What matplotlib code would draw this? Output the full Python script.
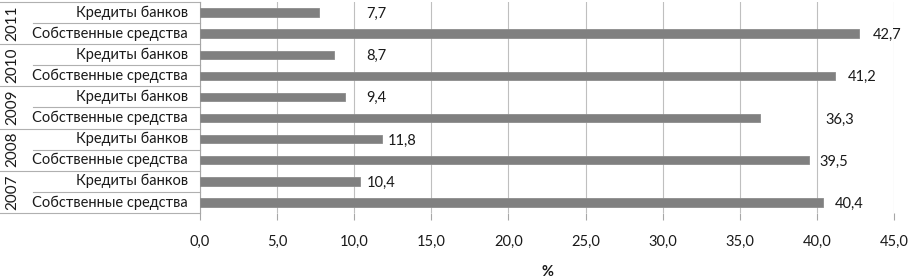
import matplotlib
matplotlib.use("Agg")
import matplotlib.pyplot as plt
from matplotlib.transforms import blended_transform_factory

plt.rcParams['font.family'] = ['Lato', 'DejaVu Sans']

years = ["2007", "2008", "2009", "2010", "2011"]
subcats = ["Собственные средства", "Кредиты банков"]
own_funds = [40.4, 39.5, 36.3, 41.2, 42.7]
bank_credit = [10.4, 11.8, 9.4, 8.7, 7.7]
value_labels_own = ["40,4", "39,5", "36,3", "41,2", "42,7"]
value_labels_credit = ["10,4", "11,8", "9,4", "8,7", "7,7"]
xticks = [0, 5, 10, 15, 20, 25, 30, 35, 40, 45]
xtick_labels = ["0,0", "5,0", "10,0", "15,0", "20,0", "25,0", "30,0", "35,0", "40,0", "45,0"]
xlabel = "%"

# label offsets in pixels from bar end (style, mimicking reference placement)
off_own = [12, 10, 66, 12, 14]
off_credit = [6, 6, 21, 32, 47]

W, H = 908, 278
FS = 10.5
TXT = "#1a1a1a"
fig = plt.figure(figsize=(W / 100, H / 100), dpi=100)
ax = fig.add_axes([200 / W, (H - 213) / H, 694 / W, 211 / H])

vals, labs, offs, cats = [], [], [], []
for i in range(len(years)):
    vals += [own_funds[i], bank_credit[i]]
    labs += [value_labels_own[i], value_labels_credit[i]]
    offs += [off_own[i], off_credit[i]]
    cats += subcats
pos = list(range(len(vals)))

bar_color = "#808080"
ax.barh(pos, vals, height=0.4, color=bar_color, edgecolor="#8c8c8c", linewidth=0.6, zorder=3)
for p, v, l, o in zip(pos, vals, labs, offs):
    ax.annotate(l, (v, p), xytext=(o * 0.72, -1), textcoords="offset points",
                ha="left", va="center", fontsize=FS, color=TXT)

ax.set_xlim(0, 45)
ax.set_ylim(-0.5, len(vals) - 0.5)
ax.set_xticks(xticks)
ax.set_xticklabels(xtick_labels, fontsize=FS, color=TXT)
ax.set_yticks([])
ax.grid(axis="x", color="#bfbfbf", linewidth=0.8, zorder=0)
for s in ["top", "right", "bottom"]:
    ax.spines[s].set_visible(False)
ax.spines["left"].set_color("#a6a6a6")
ax.spines["left"].set_linewidth(0.8)
ax.tick_params(axis="x", length=5, width=0.8, color="#a6a6a6", pad=11)
ax.set_xlabel(xlabel, fontsize=FS, fontweight="bold", labelpad=11, color=TXT)

tr = blended_transform_factory(fig.transFigure, ax.transData)
line_kw = dict(color="#b0b0b0", linewidth=0.8, transform=tr, clip_on=False)
# category labels
for p, c in zip(pos, cats):
    ax.text(188 / W, p, c, transform=tr, ha="right", va="center", fontsize=FS, color=TXT, clip_on=False)
# year labels
for i, y in enumerate(years):
    ax.text(12 / W, 2 * i + 0.5, y, transform=tr, ha="center", va="center", rotation=90,
            fontsize=FS + 0.5, color=TXT, clip_on=False)
# separators
for i in range(len(years) + 1):
    yb = 2 * i - 0.5
    ax.plot([0, 200 / W], [yb, yb], **line_kw)
for i in range(len(years)):
    yb = 2 * i + 0.5
    ax.plot([33 / W, 200 / W], [yb, yb], **line_kw)

fig.savefig("out.png", dpi=100)
